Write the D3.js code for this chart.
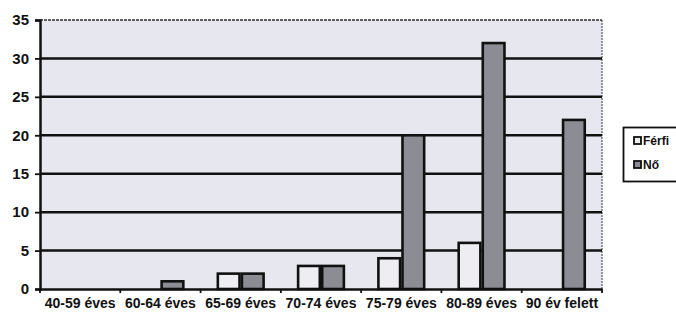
<!DOCTYPE html>
<html><head><meta charset="utf-8">
<script src="https://cdn.jsdelivr.net/npm/d3@7"></script>
<style>
body{margin:0;background:#fff;}
svg{display:block;font-family:"Liberation Sans",Arial,sans-serif;}
</style></head>
<body>
<svg id="c" width="676" height="312"></svg>
<script>
const categories = ["40-59 éves","60-64 éves","65-69 éves","70-74 éves","75-79 éves","80-89 éves","90 év felett"];
const seriesNames = ["Férfi","Nő"];
const ferfi = [0,0,2,3,4,6,0];
const no = [0,1,2,3,20,32,22];
const yTicks = [0,5,10,15,20,25,30,35];
const colors = {"Férfi":"#ededf2","Nő":"#8c8c95"};

const data = categories.map((c,i)=>({cat:c, values:[{s:"Férfi",v:ferfi[i]},{s:"Nő",v:no[i]}]}));

const svg = d3.select("#c");
const L=40,R=602,T=20,B=289;
const x0 = d3.scaleBand().domain(categories).range([L,R]).paddingInner(0.4).paddingOuter(0.2);
const x1 = d3.scaleBand().domain(seriesNames).range([0,x0.bandwidth()]).padding(0);
const y = d3.scaleLinear().domain([0,35]).range([B,T]);

svg.append("rect").attr("x",L).attr("y",T).attr("width",R-L).attr("height",B-T).attr("fill","#e7e7f0");
svg.append("line").attr("x1",R).attr("x2",R).attr("y1",T).attr("y2",B).attr("stroke","#555").attr("stroke-width",1.2).attr("stroke-dasharray","2,1");

svg.append("g").selectAll("line").data(yTicks.filter(d=>d>0)).join("line")
 .attr("x1",L).attr("x2",R).attr("y1",d=>y(d)).attr("y2",d=>y(d))
 .attr("stroke",d=>d===35?"#333":"#111").attr("stroke-width",d=>d===35?1.3:2.5)
 .attr("stroke-dasharray",d=>d===35?"3,1":null);

const g = svg.append("g").selectAll("g").data(data).join("g").attr("transform",d=>`translate(${x0(d.cat)},0)`);
g.selectAll("rect").data(d=>d.values.filter(v=>v.v>0)).join("rect")
 .attr("x",d=>x1(d.s)+1.2).attr("width",x1.bandwidth()-2.4)
 .attr("y",d=>y(d.v)).attr("height",d=>y(0)-y(d.v))
 .attr("fill",d=>colors[d.s]).attr("stroke","#111").attr("stroke-width",2.6);

const ya = svg.append("g").attr("transform",`translate(${L},0)`)
 .call(d3.axisLeft(y).tickValues(yTicks).tickSize(5).tickPadding(6));
ya.select(".domain").attr("stroke","#111").attr("stroke-width",2.5);
ya.selectAll(".tick line").attr("stroke","#111").attr("stroke-width",1.8);
ya.selectAll("text").attr("font-size",15).attr("font-weight","bold").attr("fill","#111").attr("font-family","Liberation Sans, Arial, sans-serif");

const xa = svg.append("g").attr("transform",`translate(0,${B})`)
 .call(d3.axisBottom(x0).tickSize(0).tickPadding(9));
xa.select(".domain").attr("stroke","#111").attr("stroke-width",2.5);
xa.selectAll("text").attr("font-size",14).attr("fill","#111").attr("font-family","Liberation Sans, Arial, sans-serif").attr("font-weight","bold").attr("dy","0.71em");
const step = x0.step();
const bounds = d3.range(categories.length+1).map(i=>L+i*step);
svg.append("g").selectAll("line").data(bounds).join("line")
 .attr("x1",d=>d).attr("x2",d=>d).attr("y1",B).attr("y2",B+4).attr("stroke","#111").attr("stroke-width",1.8);

const lg = svg.append("g");
lg.append("rect").attr("x",623.5).attr("y",127.5).attr("width",60).attr("height",54).attr("fill","#fff").attr("stroke","#111").attr("stroke-width",1.8);
const li = lg.selectAll("g").data(seriesNames).join("g").attr("transform",(d,i)=>`translate(634,${141+i*24})`);
li.append("rect").attr("x",0).attr("y",-4).attr("width",7).attr("height",7).attr("fill",d=>colors[d]).attr("stroke","#111").attr("stroke-width",1.8);
li.append("text").attr("x",9).attr("y",0).attr("dy","0.35em").attr("font-size",12).attr("font-weight","bold").attr("fill","#111").text(d=>d);
</script>
</body></html>
